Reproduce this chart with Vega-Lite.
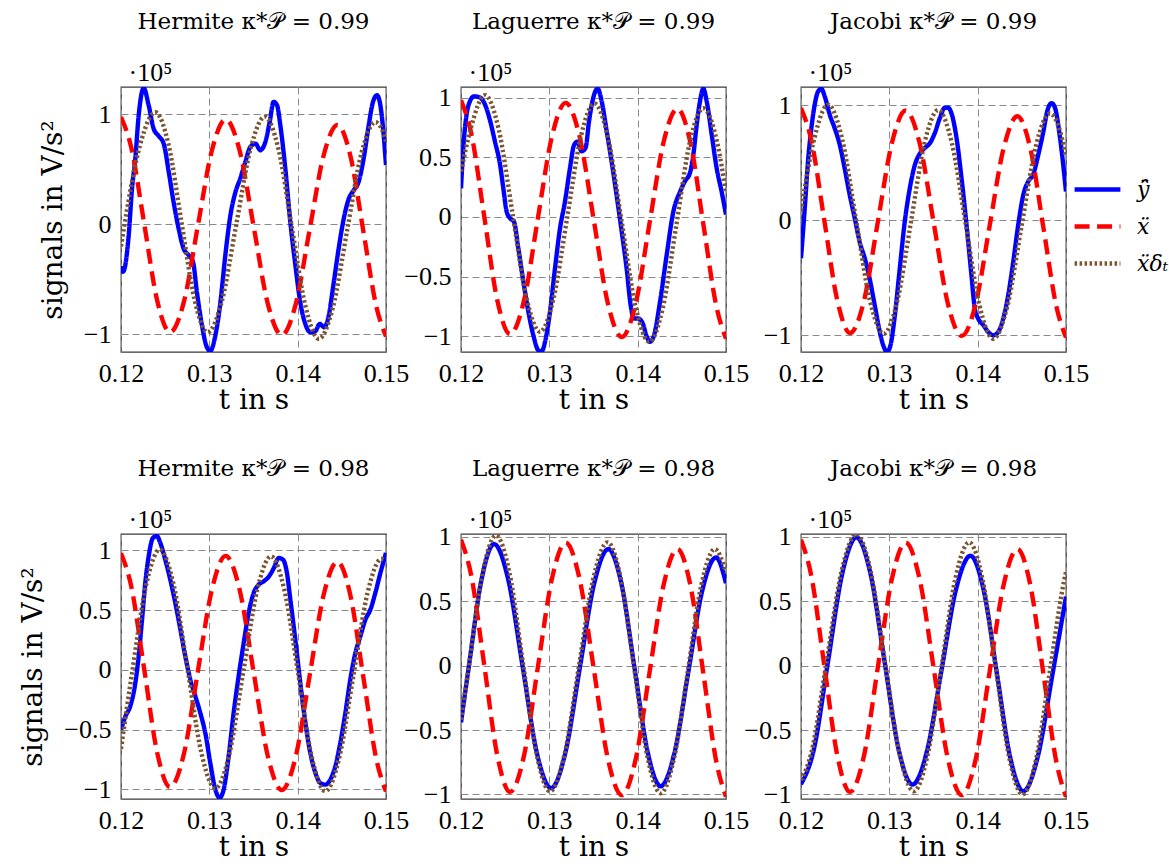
{
"$schema": "https://vega.github.io/schema/vega-lite/v6.json",
"background": "white",
"padding": {"left": 19, "top": 10, "right": 0, "bottom": 0},
"autosize": {"type": "pad"},
"datasets": {"sig": [
{"p":1,"s":"y","t":0.12,"v":-0.38},{"p":1,"s":"y","t":0.12023,"v":-0.43},{"p":1,"s":"y","t":0.12087,"v":-0.10},{"p":1,"s":"y","t":0.12125,"v":0.33},{"p":1,"s":"y","t":0.12162,"v":0.60},{"p":1,"s":"y","t":0.122,"v":0.99},{"p":1,"s":"y","t":0.12257,"v":1.24},{"p":1,"s":"y","t":0.12313,"v":1.085},{"p":1,"s":"y","t":0.1237,"v":0.87},{"p":1,"s":"y","t":0.12426,"v":0.805},{"p":1,"s":"y","t":0.12483,"v":0.735},{"p":1,"s":"y","t":0.1254,"v":0.48},{"p":1,"s":"y","t":0.12596,"v":0.20},{"p":1,"s":"y","t":0.12653,"v":-0.04},{"p":1,"s":"y","t":0.12709,"v":-0.22},{"p":1,"s":"y","t":0.12766,"v":-0.28},{"p":1,"s":"y","t":0.12815,"v":-0.34},{"p":1,"s":"y","t":0.1286,"v":-0.62},{"p":1,"s":"y","t":0.12917,"v":-0.92},{"p":1,"s":"y","t":0.12974,"v":-1.12},{"p":1,"s":"y","t":0.13011,"v":-1.15},{"p":1,"s":"y","t":0.13068,"v":-1.01},{"p":1,"s":"y","t":0.13125,"v":-0.71},{"p":1,"s":"y","t":0.13181,"v":-0.28},{"p":1,"s":"y","t":0.13238,"v":0.08},{"p":1,"s":"y","t":0.13294,"v":0.29},{"p":1,"s":"y","t":0.13351,"v":0.42},{"p":1,"s":"y","t":0.13408,"v":0.57},{"p":1,"s":"y","t":0.13464,"v":0.705},{"p":1,"s":"y","t":0.13521,"v":0.735},{"p":1,"s":"y","t":0.13577,"v":0.675},{"p":1,"s":"y","t":0.13634,"v":0.75},{"p":1,"s":"y","t":0.13683,"v":0.93},{"p":1,"s":"y","t":0.13728,"v":1.115},{"p":1,"s":"y","t":0.13766,"v":1.085},{"p":1,"s":"y","t":0.13804,"v":0.90},{"p":1,"s":"y","t":0.1386,"v":0.51},{"p":1,"s":"y","t":0.13917,"v":0.02},{"p":1,"s":"y","t":0.13974,"v":-0.37},{"p":1,"s":"y","t":0.1403,"v":-0.71},{"p":1,"s":"y","t":0.14087,"v":-0.905},{"p":1,"s":"y","t":0.14143,"v":-0.98},{"p":1,"s":"y","t":0.142,"v":-0.97},{"p":1,"s":"y","t":0.14249,"v":-0.905},{"p":1,"s":"y","t":0.14302,"v":-0.935},{"p":1,"s":"y","t":0.14351,"v":-0.83},{"p":1,"s":"y","t":0.14408,"v":-0.53},{"p":1,"s":"y","t":0.14464,"v":-0.22},{"p":1,"s":"y","t":0.14521,"v":0.05},{"p":1,"s":"y","t":0.14577,"v":0.23},{"p":1,"s":"y","t":0.14634,"v":0.31},{"p":1,"s":"y","t":0.14691,"v":0.39},{"p":1,"s":"y","t":0.14747,"v":0.60},{"p":1,"s":"y","t":0.14804,"v":0.90},{"p":1,"s":"y","t":0.14853,"v":1.115},{"p":1,"s":"y","t":0.14898,"v":1.175},{"p":1,"s":"y","t":0.14936,"v":1.085},{"p":1,"s":"y","t":0.14974,"v":0.81},{"p":1,"s":"y","t":0.15,"v":0.54},
{"p":2,"s":"y","t":0.12,"v":0.24},{"p":2,"s":"y","t":0.12026,"v":0.58},{"p":2,"s":"y","t":0.12064,"v":0.86},{"p":2,"s":"y","t":0.12102,"v":0.97},{"p":2,"s":"y","t":0.12147,"v":1.01},{"p":2,"s":"y","t":0.12215,"v":1.0},{"p":2,"s":"y","t":0.12272,"v":0.94},{"p":2,"s":"y","t":0.12328,"v":0.81},{"p":2,"s":"y","t":0.12385,"v":0.63},{"p":2,"s":"y","t":0.12442,"v":0.44},{"p":2,"s":"y","t":0.12479,"v":0.24},{"p":2,"s":"y","t":0.12517,"v":0.045},{"p":2,"s":"y","t":0.12555,"v":-0.01},{"p":2,"s":"y","t":0.126,"v":-0.04},{"p":2,"s":"y","t":0.12649,"v":-0.26},{"p":2,"s":"y","t":0.12706,"v":-0.54},{"p":2,"s":"y","t":0.12762,"v":-0.79},{"p":2,"s":"y","t":0.12819,"v":-0.99},{"p":2,"s":"y","t":0.12875,"v":-1.115},{"p":2,"s":"y","t":0.12913,"v":-1.125},{"p":2,"s":"y","t":0.12951,"v":-1.045},{"p":2,"s":"y","t":0.13008,"v":-0.79},{"p":2,"s":"y","t":0.13064,"v":-0.43},{"p":2,"s":"y","t":0.13121,"v":-0.095},{"p":2,"s":"y","t":0.13177,"v":0.13},{"p":2,"s":"y","t":0.13234,"v":0.41},{"p":2,"s":"y","t":0.13279,"v":0.60},{"p":2,"s":"y","t":0.13317,"v":0.63},{"p":2,"s":"y","t":0.13366,"v":0.55},{"p":2,"s":"y","t":0.13411,"v":0.58},{"p":2,"s":"y","t":0.13449,"v":0.80},{"p":2,"s":"y","t":0.13498,"v":1.0},{"p":2,"s":"y","t":0.13547,"v":1.075},{"p":2,"s":"y","t":0.13592,"v":0.97},{"p":2,"s":"y","t":0.13649,"v":0.72},{"p":2,"s":"y","t":0.13706,"v":0.46},{"p":2,"s":"y","t":0.13762,"v":0.18},{"p":2,"s":"y","t":0.13819,"v":-0.12},{"p":2,"s":"y","t":0.13875,"v":-0.43},{"p":2,"s":"y","t":0.13921,"v":-0.74},{"p":2,"s":"y","t":0.13958,"v":-0.85},{"p":2,"s":"y","t":0.14008,"v":-0.85},{"p":2,"s":"y","t":0.14057,"v":-0.89},{"p":2,"s":"y","t":0.14102,"v":-1.0},{"p":2,"s":"y","t":0.1414,"v":-1.045},{"p":2,"s":"y","t":0.14185,"v":-0.99},{"p":2,"s":"y","t":0.14253,"v":-0.71},{"p":2,"s":"y","t":0.14328,"v":-0.32},{"p":2,"s":"y","t":0.14404,"v":0.045},{"p":2,"s":"y","t":0.14479,"v":0.21},{"p":2,"s":"y","t":0.14536,"v":0.30},{"p":2,"s":"y","t":0.14592,"v":0.37},{"p":2,"s":"y","t":0.1463,"v":0.52},{"p":2,"s":"y","t":0.14668,"v":0.77},{"p":2,"s":"y","t":0.14706,"v":0.97},{"p":2,"s":"y","t":0.14743,"v":1.075},{"p":2,"s":"y","t":0.14781,"v":0.97},{"p":2,"s":"y","t":0.14838,"v":0.69},{"p":2,"s":"y","t":0.14894,"v":0.41},{"p":2,"s":"y","t":0.14951,"v":0.21},{"p":2,"s":"y","t":0.15,"v":0.02},
{"p":3,"s":"y","t":0.12,"v":-0.33},{"p":3,"s":"y","t":0.12042,"v":0.10},{"p":3,"s":"y","t":0.12079,"v":0.51},{"p":3,"s":"y","t":0.12117,"v":0.80},{"p":3,"s":"y","t":0.12155,"v":1.006},{"p":3,"s":"y","t":0.12193,"v":1.12},{"p":3,"s":"y","t":0.1223,"v":1.145},{"p":3,"s":"y","t":0.12268,"v":1.08},{"p":3,"s":"y","t":0.12325,"v":0.92},{"p":3,"s":"y","t":0.12382,"v":0.80},{"p":3,"s":"y","t":0.12438,"v":0.66},{"p":3,"s":"y","t":0.12495,"v":0.45},{"p":3,"s":"y","t":0.12552,"v":0.22},{"p":3,"s":"y","t":0.12608,"v":0.02},{"p":3,"s":"y","t":0.12665,"v":-0.19},{"p":3,"s":"y","t":0.12722,"v":-0.33},{"p":3,"s":"y","t":0.12778,"v":-0.51},{"p":3,"s":"y","t":0.12835,"v":-0.74},{"p":3,"s":"y","t":0.12892,"v":-0.97},{"p":3,"s":"y","t":0.12937,"v":-1.10},{"p":3,"s":"y","t":0.12975,"v":-1.145},{"p":3,"s":"y","t":0.13012,"v":-1.09},{"p":3,"s":"y","t":0.13062,"v":-0.83},{"p":3,"s":"y","t":0.13118,"v":-0.42},{"p":3,"s":"y","t":0.13175,"v":-0.01},{"p":3,"s":"y","t":0.13232,"v":0.28},{"p":3,"s":"y","t":0.13288,"v":0.48},{"p":3,"s":"y","t":0.13345,"v":0.58},{"p":3,"s":"y","t":0.13402,"v":0.63},{"p":3,"s":"y","t":0.13458,"v":0.67},{"p":3,"s":"y","t":0.13515,"v":0.76},{"p":3,"s":"y","t":0.13572,"v":0.89},{"p":3,"s":"y","t":0.13628,"v":0.98},{"p":3,"s":"y","t":0.13666,"v":0.98},{"p":3,"s":"y","t":0.13704,"v":0.93},{"p":3,"s":"y","t":0.1376,"v":0.72},{"p":3,"s":"y","t":0.13817,"v":0.37},{"p":3,"s":"y","t":0.13874,"v":-0.04},{"p":3,"s":"y","t":0.1393,"v":-0.48},{"p":3,"s":"y","t":0.13968,"v":-0.77},{"p":3,"s":"y","t":0.14006,"v":-0.855},{"p":3,"s":"y","t":0.14063,"v":-0.91},{"p":3,"s":"y","t":0.14119,"v":-0.97},{"p":3,"s":"y","t":0.14176,"v":-1.0},{"p":3,"s":"y","t":0.14233,"v":-0.97},{"p":3,"s":"y","t":0.14289,"v":-0.855},{"p":3,"s":"y","t":0.14346,"v":-0.65},{"p":3,"s":"y","t":0.14403,"v":-0.36},{"p":3,"s":"y","t":0.14459,"v":-0.04},{"p":3,"s":"y","t":0.14516,"v":0.22},{"p":3,"s":"y","t":0.14573,"v":0.34},{"p":3,"s":"y","t":0.14629,"v":0.40},{"p":3,"s":"y","t":0.14686,"v":0.57},{"p":3,"s":"y","t":0.14743,"v":0.77},{"p":3,"s":"y","t":0.14788,"v":0.95},{"p":3,"s":"y","t":0.14837,"v":1.02},{"p":3,"s":"y","t":0.14875,"v":0.98},{"p":3,"s":"y","t":0.14932,"v":0.72},{"p":3,"s":"y","t":0.15,"v":0.25},
{"p":4,"s":"y","t":0.12,"v":-0.5},{"p":4,"s":"y","t":0.12049,"v":-0.39},{"p":4,"s":"y","t":0.12106,"v":-0.30},{"p":4,"s":"y","t":0.12162,"v":-0.11},{"p":4,"s":"y","t":0.122,"v":0.114},{"p":4,"s":"y","t":0.12238,"v":0.42},{"p":4,"s":"y","t":0.12275,"v":0.73},{"p":4,"s":"y","t":0.12313,"v":0.95},{"p":4,"s":"y","t":0.12362,"v":1.105},{"p":4,"s":"y","t":0.12408,"v":1.12},{"p":4,"s":"y","t":0.12445,"v":1.063},{"p":4,"s":"y","t":0.12502,"v":0.92},{"p":4,"s":"y","t":0.12558,"v":0.756},{"p":4,"s":"y","t":0.12615,"v":0.56},{"p":4,"s":"y","t":0.12672,"v":0.34},{"p":4,"s":"y","t":0.12728,"v":0.114},{"p":4,"s":"y","t":0.12785,"v":-0.08},{"p":4,"s":"y","t":0.12842,"v":-0.22},{"p":4,"s":"y","t":0.12898,"v":-0.36},{"p":4,"s":"y","t":0.12955,"v":-0.53},{"p":4,"s":"y","t":0.13011,"v":-0.78},{"p":4,"s":"y","t":0.13068,"v":-1.0},{"p":4,"s":"y","t":0.13117,"v":-1.07},{"p":4,"s":"y","t":0.13162,"v":-1.0},{"p":4,"s":"y","t":0.13219,"v":-0.72},{"p":4,"s":"y","t":0.13275,"v":-0.36},{"p":4,"s":"y","t":0.13332,"v":-0.05},{"p":4,"s":"y","t":0.13389,"v":0.226},{"p":4,"s":"y","t":0.13445,"v":0.477},{"p":4,"s":"y","t":0.13502,"v":0.644},{"p":4,"s":"y","t":0.13558,"v":0.714},{"p":4,"s":"y","t":0.13615,"v":0.742},{"p":4,"s":"y","t":0.13672,"v":0.78},{"p":4,"s":"y","t":0.13728,"v":0.85},{"p":4,"s":"y","t":0.13785,"v":0.937},{"p":4,"s":"y","t":0.13834,"v":0.923},{"p":4,"s":"y","t":0.13879,"v":0.81},{"p":4,"s":"y","t":0.13917,"v":0.59},{"p":4,"s":"y","t":0.13974,"v":0.25},{"p":4,"s":"y","t":0.1403,"v":-0.11},{"p":4,"s":"y","t":0.14087,"v":-0.44},{"p":4,"s":"y","t":0.14143,"v":-0.695},{"p":4,"s":"y","t":0.142,"v":-0.86},{"p":4,"s":"y","t":0.14257,"v":-0.946},{"p":4,"s":"y","t":0.14313,"v":-0.96},{"p":4,"s":"y","t":0.1437,"v":-0.918},{"p":4,"s":"y","t":0.14426,"v":-0.806},{"p":4,"s":"y","t":0.14483,"v":-0.61},{"p":4,"s":"y","t":0.1454,"v":-0.36},{"p":4,"s":"y","t":0.14596,"v":-0.08},{"p":4,"s":"y","t":0.14653,"v":0.142},{"p":4,"s":"y","t":0.14709,"v":0.28},{"p":4,"s":"y","t":0.14766,"v":0.42},{"p":4,"s":"y","t":0.14823,"v":0.505},{"p":4,"s":"y","t":0.14879,"v":0.644},{"p":4,"s":"y","t":0.14936,"v":0.81},{"p":4,"s":"y","t":0.15,"v":0.98},
{"p":5,"s":"y","t":0.12,"v":-0.44},{"p":5,"s":"y","t":0.1209,"v":0.0},{"p":5,"s":"y","t":0.12232,"v":0.667},{"p":5,"s":"y","t":0.12374,"v":0.944},{"p":5,"s":"y","t":0.12535,"v":0.667},{"p":5,"s":"y","t":0.12697,"v":-0.003},{"p":5,"s":"y","t":0.12858,"v":-0.673},{"p":5,"s":"y","t":0.13019,"v":-0.95},{"p":5,"s":"y","t":0.13181,"v":-0.678},{"p":5,"s":"y","t":0.13344,"v":-0.0225},{"p":5,"s":"y","t":0.13506,"v":0.633},{"p":5,"s":"y","t":0.13668,"v":0.905},{"p":5,"s":"y","t":0.13816,"v":0.635},{"p":5,"s":"y","t":0.13964,"v":-0.0155},{"p":5,"s":"y","t":0.14112,"v":-0.666},{"p":5,"s":"y","t":0.1426,"v":-0.936},{"p":5,"s":"y","t":0.14417,"v":-0.676},{"p":5,"s":"y","t":0.14574,"v":-0.048},{"p":5,"s":"y","t":0.1473,"v":0.58},{"p":5,"s":"y","t":0.14887,"v":0.84},{"p":5,"s":"y","t":0.15,"v":0.64},
{"p":6,"s":"y","t":0.12,"v":-0.92},{"p":6,"s":"y","t":0.12146,"v":-0.648},{"p":6,"s":"y","t":0.12306,"v":0.033},{"p":6,"s":"y","t":0.12467,"v":0.714},{"p":6,"s":"y","t":0.12627,"v":0.996},{"p":6,"s":"y","t":0.12786,"v":0.715},{"p":6,"s":"y","t":0.12945,"v":0.0365},{"p":6,"s":"y","t":0.13103,"v":-0.642},{"p":6,"s":"y","t":0.13262,"v":-0.923},{"p":6,"s":"y","t":0.13426,"v":-0.663},{"p":6,"s":"y","t":0.13591,"v":-0.035},{"p":6,"s":"y","t":0.13755,"v":0.593},{"p":6,"s":"y","t":0.13919,"v":0.853},{"p":6,"s":"y","t":0.14068,"v":0.585},{"p":6,"s":"y","t":0.14218,"v":-0.061},{"p":6,"s":"y","t":0.14367,"v":-0.707},{"p":6,"s":"y","t":0.14516,"v":-0.975},{"p":6,"s":"y","t":0.1468,"v":-0.708},{"p":6,"s":"y","t":0.14848,"v":-0.0625},{"p":6,"s":"y","t":0.15,"v":0.536},
{"p":0,"s":"x","t":0.12,"v":0.977},{"p":0,"s":"x","t":0.12116,"v":0.70},{"p":0,"s":"x","t":0.12263,"v":0.005},{"p":0,"s":"x","t":0.12409,"v":-0.69},{"p":0,"s":"x","t":0.12555,"v":-0.98},{"p":0,"s":"x","t":0.12713,"v":-0.70},{"p":0,"s":"x","t":0.1287,"v":-0.0125},{"p":0,"s":"x","t":0.13028,"v":0.67},{"p":0,"s":"x","t":0.13185,"v":0.955},{"p":0,"s":"x","t":0.13344,"v":0.668},{"p":0,"s":"x","t":0.13503,"v":-0.025},{"p":0,"s":"x","t":0.13661,"v":-0.718},{"p":0,"s":"x","t":0.1382,"v":-1.005},{"p":0,"s":"x","t":0.13978,"v":-0.725},{"p":0,"s":"x","t":0.14135,"v":-0.05},{"p":0,"s":"x","t":0.14293,"v":0.625},{"p":0,"s":"x","t":0.1445,"v":0.905},{"p":0,"s":"x","t":0.14598,"v":0.62},{"p":0,"s":"x","t":0.14745,"v":-0.0675},{"p":0,"s":"x","t":0.14893,"v":-0.755},{"p":0,"s":"x","t":0.15,"v":-1.018},
{"p":1,"s":"d","t":0.12,"v":-0.2},{"p":1,"s":"d","t":0.1204,"v":0.0},{"p":1,"s":"d","t":0.12215,"v":0.72},{"p":1,"s":"d","t":0.1239,"v":1.02},{"p":1,"s":"d","t":0.12538,"v":0.727},{"p":1,"s":"d","t":0.12685,"v":0.02},{"p":1,"s":"d","t":0.12833,"v":-0.687},{"p":1,"s":"d","t":0.1298,"v":-0.98},{"p":1,"s":"d","t":0.13143,"v":-0.693},{"p":1,"s":"d","t":0.13305,"v":0.0},{"p":1,"s":"d","t":0.13468,"v":0.693},{"p":1,"s":"d","t":0.1363,"v":0.98},{"p":1,"s":"d","t":0.13783,"v":0.684},{"p":1,"s":"d","t":0.13935,"v":-0.03},{"p":1,"s":"d","t":0.14088,"v":-0.744},{"p":1,"s":"d","t":0.1424,"v":-1.04},{"p":1,"s":"d","t":0.144,"v":-0.751},{"p":1,"s":"d","t":0.1456,"v":-0.055},{"p":1,"s":"d","t":0.1472,"v":0.641},{"p":1,"s":"d","t":0.1488,"v":0.93},{"p":1,"s":"d","t":0.14958,"v":0.857},{"p":1,"s":"d","t":0.15,"v":0.755},
{"p":2,"s":"d","t":0.12,"v":0.38},{"p":2,"s":"d","t":0.1211,"v":0.74},{"p":2,"s":"d","t":0.12272,"v":1.02},{"p":2,"s":"d","t":0.12428,"v":0.73},{"p":2,"s":"d","t":0.12583,"v":0.03},{"p":2,"s":"d","t":0.12739,"v":-0.67},{"p":2,"s":"d","t":0.12894,"v":-0.96},{"p":2,"s":"d","t":0.13048,"v":-0.68},{"p":2,"s":"d","t":0.13202,"v":-0.005},{"p":2,"s":"d","t":0.13356,"v":0.67},{"p":2,"s":"d","t":0.1351,"v":0.95},{"p":2,"s":"d","t":0.13666,"v":0.658},{"p":2,"s":"d","t":0.13821,"v":-0.0475},{"p":2,"s":"d","t":0.13977,"v":-0.753},{"p":2,"s":"d","t":0.14132,"v":-1.045},{"p":2,"s":"d","t":0.14285,"v":-0.759},{"p":2,"s":"d","t":0.14438,"v":-0.0675},{"p":2,"s":"d","t":0.1459,"v":0.624},{"p":2,"s":"d","t":0.14743,"v":0.91},{"p":2,"s":"d","t":0.149,"v":0.624},{"p":2,"s":"d","t":0.15,"v":0.2},
{"p":3,"s":"d","t":0.12,"v":0.08},{"p":3,"s":"d","t":0.1215,"v":0.71},{"p":3,"s":"d","t":0.12306,"v":1.006},{"p":3,"s":"d","t":0.12464,"v":0.714},{"p":3,"s":"d","t":0.12622,"v":0.01},{"p":3,"s":"d","t":0.12779,"v":-0.693},{"p":3,"s":"d","t":0.12937,"v":-0.985},{"p":3,"s":"d","t":0.13091,"v":-0.70},{"p":3,"s":"d","t":0.13245,"v":-0.0125},{"p":3,"s":"d","t":0.13399,"v":0.675},{"p":3,"s":"d","t":0.13553,"v":0.96},{"p":3,"s":"d","t":0.13709,"v":0.668},{"p":3,"s":"d","t":0.13865,"v":-0.035},{"p":3,"s":"d","t":0.1402,"v":-0.738},{"p":3,"s":"d","t":0.14176,"v":-1.03},{"p":3,"s":"d","t":0.14337,"v":-0.743},{"p":3,"s":"d","t":0.14497,"v":-0.05},{"p":3,"s":"d","t":0.14658,"v":0.643},{"p":3,"s":"d","t":0.14818,"v":0.93},{"p":3,"s":"d","t":0.14976,"v":0.641},{"p":3,"s":"d","t":0.15,"v":0.55},
{"p":4,"s":"d","t":0.12,"v":-0.66},{"p":4,"s":"d","t":0.1213,"v":0.0},{"p":4,"s":"d","t":0.12284,"v":0.71},{"p":4,"s":"d","t":0.12438,"v":1.007},{"p":4,"s":"d","t":0.12596,"v":0.714},{"p":4,"s":"d","t":0.12753,"v":0.0085},{"p":4,"s":"d","t":0.12911,"v":-0.697},{"p":4,"s":"d","t":0.13068,"v":-0.99},{"p":4,"s":"d","t":0.13226,"v":-0.706},{"p":4,"s":"d","t":0.13383,"v":-0.02},{"p":4,"s":"d","t":0.13541,"v":0.666},{"p":4,"s":"d","t":0.13698,"v":0.95},{"p":4,"s":"d","t":0.13852,"v":0.662},{"p":4,"s":"d","t":0.14006,"v":-0.0325},{"p":4,"s":"d","t":0.14159,"v":-0.727},{"p":4,"s":"d","t":0.14313,"v":-1.015},{"p":4,"s":"d","t":0.14472,"v":-0.73},{"p":4,"s":"d","t":0.14632,"v":-0.0425},{"p":4,"s":"d","t":0.14791,"v":0.645},{"p":4,"s":"d","t":0.1495,"v":0.93},{"p":4,"s":"d","t":0.15,"v":0.92},
{"p":5,"s":"d","t":0.12,"v":-0.42},{"p":5,"s":"d","t":0.1209,"v":0.0},{"p":5,"s":"d","t":0.12243,"v":0.714},{"p":5,"s":"d","t":0.12396,"v":1.01},{"p":5,"s":"d","t":0.12549,"v":0.719},{"p":5,"s":"d","t":0.12702,"v":0.0175},{"p":5,"s":"d","t":0.12855,"v":-0.684},{"p":5,"s":"d","t":0.13008,"v":-0.975},{"p":5,"s":"d","t":0.13171,"v":-0.692},{"p":5,"s":"d","t":0.13334,"v":-0.009},{"p":5,"s":"d","t":0.13497,"v":0.674},{"p":5,"s":"d","t":0.1366,"v":0.957},{"p":5,"s":"d","t":0.1381,"v":0.672},{"p":5,"s":"d","t":0.1396,"v":-0.0165},{"p":5,"s":"d","t":0.1411,"v":-0.705},{"p":5,"s":"d","t":0.1426,"v":-0.99},{"p":5,"s":"d","t":0.14414,"v":-0.712},{"p":5,"s":"d","t":0.14568,"v":-0.0425},{"p":5,"s":"d","t":0.14721,"v":0.627},{"p":5,"s":"d","t":0.14875,"v":0.905},{"p":5,"s":"d","t":0.15,"v":0.72},
{"p":6,"s":"d","t":0.12,"v":-0.89},{"p":6,"s":"d","t":0.12119,"v":-0.67},{"p":6,"s":"d","t":0.12289,"v":0.03},{"p":6,"s":"d","t":0.12458,"v":0.73},{"p":6,"s":"d","t":0.12627,"v":1.02},{"p":6,"s":"d","t":0.1279,"v":0.728},{"p":6,"s":"d","t":0.12952,"v":0.0225},{"p":6,"s":"d","t":0.13115,"v":-0.683},{"p":6,"s":"d","t":0.13277,"v":-0.975},{"p":6,"s":"d","t":0.13434,"v":-0.692},{"p":6,"s":"d","t":0.13591,"v":-0.009},{"p":6,"s":"d","t":0.13747,"v":0.674},{"p":6,"s":"d","t":0.13904,"v":0.957},{"p":6,"s":"d","t":0.14055,"v":0.67},{"p":6,"s":"d","t":0.14206,"v":-0.0215},{"p":6,"s":"d","t":0.14357,"v":-0.713},{"p":6,"s":"d","t":0.14508,"v":-1.0},{"p":6,"s":"d","t":0.14664,"v":-0.717},{"p":6,"s":"d","t":0.14819,"v":-0.035},{"p":6,"s":"d","t":0.14975,"v":0.647},{"p":6,"s":"d","t":0.15,"v":0.727}
]},
"data": {"name": "sig"},
"columns": 3,
"spacing": {"row": 182, "column": 75},
"bounds": "flush",
"concat": [
{"width": 265, "height": 265, "title": {"text": "Hermite \u03ba*\ud835\udcab = 0.99", "font": "DejaVu Serif", "fontSize": 23, "fontWeight": "normal", "offset": 25, "frame": "group"},
 "transform": [{"filter": "datum.p == 1 || datum.p == 0"}],
 "layer": [
  {"mark": {"type": "line", "interpolate": "monotone", "strokeWidth": 4.4, "clip": true},
   "encoding": {
    "x": {"field": "t", "type": "quantitative", "scale": {"domain": [0.12, 0.15], "nice": false, "zero": false}, "axis": {"values": [0.12, 0.13, 0.14, 0.15], "format": ".2f", "title": "t in s", "labelFont": "Liberation Serif", "labelFontSize": 26, "labelPadding": 8, "titleFont": "DejaVu Serif", "titleFontSize": 28, "titleFontWeight": "normal", "titlePadding": 0}},
    "y": {"field": "v", "type": "quantitative", "scale": {"domain": [-1.16, 1.25], "nice": false, "zero": false}, "axis": {"values": [-1, 0, 1], "format": "~g", "title": "signals in V/s\u00b2", "labelFont": "Liberation Serif", "labelFontSize": 26, "labelPadding": 10, "titleFont": "DejaVu Serif", "titleFontSize": 28, "titleFontWeight": "normal", "titlePadding": 16}},
    "color": {"field": "s", "type": "nominal", "scale": {"domain": ["y", "x", "d"], "range": ["#0000ff", "#ff0000", "#7a5530"]}, "legend": {"title": null, "orient": "none", "legendX": 951, "legendY": 77, "symbolType": "stroke", "symbolSize": 2100, "symbolStrokeWidth": 4.5, "labelFont": "DejaVu Serif", "labelFontSize": 22, "labelFontStyle": "italic", "labelOffset": 14, "rowPadding": -40, "labelExpr": "datum.label === 'y' ? 'y\u0302\u0308' : datum.label === 'x' ? 'x\u0308' : 'x\u0308\u03b4\u209c'"}},
    "strokeDash": {"field": "s", "type": "nominal", "scale": {"domain": ["y", "x", "d"], "range": [[1, 0], [15, 7.5], [2.5, 2.5]]}, "legend": {"title": null, "orient": "none", "legendX": 951, "legendY": 77, "symbolType": "stroke", "symbolSize": 2100, "symbolStrokeWidth": 4.5, "labelFont": "DejaVu Serif", "labelFontSize": 22, "labelFontStyle": "italic", "labelOffset": 14, "rowPadding": -40, "labelExpr": "datum.label === 'y' ? 'y\u0302\u0308' : datum.label === 'x' ? 'x\u0308' : 'x\u0308\u03b4\u209c'"}}
   }},
  {"data": {"values": [{}]}, "mark": {"type": "rule", "opacity": 0},
   "encoding": {"x": {"datum": 0.13, "type": "quantitative", "axis": {"orient": "top", "title": "\u00b710\u2075", "labels": false, "ticks": false, "domain": false, "grid": false, "titleAnchor": "start", "titleAlign": "left", "titleX": 7, "titleFont": "Liberation Serif", "titleFontSize": 26, "titleFontWeight": "normal", "titlePadding": 2}}}}
 ],
 "resolve": {"axis": {"x": "independent"}}},
{"width": 265, "height": 265, "title": {"text": "Laguerre \u03ba*\ud835\udcab = 0.99", "font": "DejaVu Serif", "fontSize": 23, "fontWeight": "normal", "offset": 25, "frame": "group"},
 "transform": [{"filter": "datum.p == 2 || datum.p == 0"}],
 "layer": [
  {"mark": {"type": "line", "interpolate": "monotone", "strokeWidth": 4.4, "clip": true},
   "encoding": {
    "x": {"field": "t", "type": "quantitative", "scale": {"domain": [0.12, 0.15], "nice": false, "zero": false}, "axis": {"values": [0.12, 0.13, 0.14, 0.15], "format": ".2f", "title": "t in s", "labelFont": "Liberation Serif", "labelFontSize": 26, "labelPadding": 8, "titleFont": "DejaVu Serif", "titleFontSize": 28, "titleFontWeight": "normal", "titlePadding": 0}},
    "y": {"field": "v", "type": "quantitative", "scale": {"domain": [-1.13, 1.088], "nice": false, "zero": false}, "axis": {"values": [-1, -0.5, 0, 0.5, 1], "format": "~g", "title": null, "labelFont": "Liberation Serif", "labelFontSize": 26, "labelPadding": 10}},
    "color": {"field": "s", "type": "nominal", "scale": {"domain": ["y", "x", "d"], "range": ["#0000ff", "#ff0000", "#7a5530"]}, "legend": null},
    "strokeDash": {"field": "s", "type": "nominal", "scale": {"domain": ["y", "x", "d"], "range": [[1, 0], [15, 7.5], [2.5, 2.5]]}, "legend": null}
   }},
  {"data": {"values": [{}]}, "mark": {"type": "rule", "opacity": 0},
   "encoding": {"x": {"datum": 0.13, "type": "quantitative", "axis": {"orient": "top", "title": "\u00b710\u2075", "labels": false, "ticks": false, "domain": false, "grid": false, "titleAnchor": "start", "titleAlign": "left", "titleX": 7, "titleFont": "Liberation Serif", "titleFontSize": 26, "titleFontWeight": "normal", "titlePadding": 2}}}}
 ],
 "resolve": {"axis": {"x": "independent"}}},
{"width": 265, "height": 265, "title": {"text": "Jacobi \u03ba*\ud835\udcab = 0.99", "font": "DejaVu Serif", "fontSize": 23, "fontWeight": "normal", "offset": 25, "frame": "group"},
 "transform": [{"filter": "datum.p == 3 || datum.p == 0"}],
 "layer": [
  {"mark": {"type": "line", "interpolate": "monotone", "strokeWidth": 4.4, "clip": true},
   "encoding": {
    "x": {"field": "t", "type": "quantitative", "scale": {"domain": [0.12, 0.15], "nice": false, "zero": false}, "axis": {"values": [0.12, 0.13, 0.14, 0.15], "format": ".2f", "title": "t in s", "labelFont": "Liberation Serif", "labelFontSize": 26, "labelPadding": 8, "titleFont": "DejaVu Serif", "titleFontSize": 28, "titleFontWeight": "normal", "titlePadding": 0}},
    "y": {"field": "v", "type": "quantitative", "scale": {"domain": [-1.145, 1.16], "nice": false, "zero": false}, "axis": {"values": [-1, 0, 1], "format": "~g", "title": null, "labelFont": "Liberation Serif", "labelFontSize": 26, "labelPadding": 10}},
    "color": {"field": "s", "type": "nominal", "scale": {"domain": ["y", "x", "d"], "range": ["#0000ff", "#ff0000", "#7a5530"]}, "legend": null},
    "strokeDash": {"field": "s", "type": "nominal", "scale": {"domain": ["y", "x", "d"], "range": [[1, 0], [15, 7.5], [2.5, 2.5]]}, "legend": null}
   }},
  {"data": {"values": [{}]}, "mark": {"type": "rule", "opacity": 0},
   "encoding": {"x": {"datum": 0.13, "type": "quantitative", "axis": {"orient": "top", "title": "\u00b710\u2075", "labels": false, "ticks": false, "domain": false, "grid": false, "titleAnchor": "start", "titleAlign": "left", "titleX": 7, "titleFont": "Liberation Serif", "titleFontSize": 26, "titleFontWeight": "normal", "titlePadding": 2}}}}
 ],
 "resolve": {"axis": {"x": "independent"}}},
{"width": 265, "height": 265, "title": {"text": "Hermite \u03ba*\ud835\udcab = 0.98", "font": "DejaVu Serif", "fontSize": 23, "fontWeight": "normal", "offset": 25, "frame": "group"},
 "transform": [{"filter": "datum.p == 4 || datum.p == 0"}],
 "layer": [
  {"mark": {"type": "line", "interpolate": "monotone", "strokeWidth": 4.4, "clip": true},
   "encoding": {
    "x": {"field": "t", "type": "quantitative", "scale": {"domain": [0.12, 0.15], "nice": false, "zero": false}, "axis": {"values": [0.12, 0.13, 0.14, 0.15], "format": ".2f", "title": "t in s", "labelFont": "Liberation Serif", "labelFontSize": 26, "labelPadding": 8, "titleFont": "DejaVu Serif", "titleFontSize": 28, "titleFontWeight": "normal", "titlePadding": 0}},
    "y": {"field": "v", "type": "quantitative", "scale": {"domain": [-1.08, 1.138], "nice": false, "zero": false}, "axis": {"values": [-1, -0.5, 0, 0.5, 1], "format": "~g", "title": "signals in V/s\u00b2", "labelFont": "Liberation Serif", "labelFontSize": 26, "labelPadding": 10, "titleFont": "DejaVu Serif", "titleFontSize": 28, "titleFontWeight": "normal", "titlePadding": 16}},
    "color": {"field": "s", "type": "nominal", "scale": {"domain": ["y", "x", "d"], "range": ["#0000ff", "#ff0000", "#7a5530"]}, "legend": null},
    "strokeDash": {"field": "s", "type": "nominal", "scale": {"domain": ["y", "x", "d"], "range": [[1, 0], [15, 7.5], [2.5, 2.5]]}, "legend": null}
   }},
  {"data": {"values": [{}]}, "mark": {"type": "rule", "opacity": 0},
   "encoding": {"x": {"datum": 0.13, "type": "quantitative", "axis": {"orient": "top", "title": "\u00b710\u2075", "labels": false, "ticks": false, "domain": false, "grid": false, "titleAnchor": "start", "titleAlign": "left", "titleX": 7, "titleFont": "Liberation Serif", "titleFontSize": 26, "titleFontWeight": "normal", "titlePadding": 2}}}}
 ],
 "resolve": {"axis": {"x": "independent"}}},
{"width": 265, "height": 265, "title": {"text": "Laguerre \u03ba*\ud835\udcab = 0.98", "font": "DejaVu Serif", "fontSize": 23, "fontWeight": "normal", "offset": 25, "frame": "group"},
 "transform": [{"filter": "datum.p == 5 || datum.p == 0"}],
 "layer": [
  {"mark": {"type": "line", "interpolate": "monotone", "strokeWidth": 4.4, "clip": true},
   "encoding": {
    "x": {"field": "t", "type": "quantitative", "scale": {"domain": [0.12, 0.15], "nice": false, "zero": false}, "axis": {"values": [0.12, 0.13, 0.14, 0.15], "format": ".2f", "title": "t in s", "labelFont": "Liberation Serif", "labelFontSize": 26, "labelPadding": 8, "titleFont": "DejaVu Serif", "titleFontSize": 28, "titleFontWeight": "normal", "titlePadding": 0}},
    "y": {"field": "v", "type": "quantitative", "scale": {"domain": [-1.035, 1.022], "nice": false, "zero": false}, "axis": {"values": [-1, -0.5, 0, 0.5, 1], "format": "~g", "title": null, "labelFont": "Liberation Serif", "labelFontSize": 26, "labelPadding": 10}},
    "color": {"field": "s", "type": "nominal", "scale": {"domain": ["y", "x", "d"], "range": ["#0000ff", "#ff0000", "#7a5530"]}, "legend": null},
    "strokeDash": {"field": "s", "type": "nominal", "scale": {"domain": ["y", "x", "d"], "range": [[1, 0], [15, 7.5], [2.5, 2.5]]}, "legend": null}
   }},
  {"data": {"values": [{}]}, "mark": {"type": "rule", "opacity": 0},
   "encoding": {"x": {"datum": 0.13, "type": "quantitative", "axis": {"orient": "top", "title": "\u00b710\u2075", "labels": false, "ticks": false, "domain": false, "grid": false, "titleAnchor": "start", "titleAlign": "left", "titleX": 7, "titleFont": "Liberation Serif", "titleFontSize": 26, "titleFontWeight": "normal", "titlePadding": 2}}}}
 ],
 "resolve": {"axis": {"x": "independent"}}},
{"width": 265, "height": 265, "title": {"text": "Jacobi \u03ba*\ud835\udcab = 0.98", "font": "DejaVu Serif", "fontSize": 23, "fontWeight": "normal", "offset": 25, "frame": "group"},
 "transform": [{"filter": "datum.p == 6 || datum.p == 0"}],
 "layer": [
  {"mark": {"type": "line", "interpolate": "monotone", "strokeWidth": 4.4, "clip": true},
   "encoding": {
    "x": {"field": "t", "type": "quantitative", "scale": {"domain": [0.12, 0.15], "nice": false, "zero": false}, "axis": {"values": [0.12, 0.13, 0.14, 0.15], "format": ".2f", "title": "t in s", "labelFont": "Liberation Serif", "labelFontSize": 26, "labelPadding": 8, "titleFont": "DejaVu Serif", "titleFontSize": 28, "titleFontWeight": "normal", "titlePadding": 0}},
    "y": {"field": "v", "type": "quantitative", "scale": {"domain": [-1.035, 1.022], "nice": false, "zero": false}, "axis": {"values": [-1, -0.5, 0, 0.5, 1], "format": "~g", "title": null, "labelFont": "Liberation Serif", "labelFontSize": 26, "labelPadding": 10}},
    "color": {"field": "s", "type": "nominal", "scale": {"domain": ["y", "x", "d"], "range": ["#0000ff", "#ff0000", "#7a5530"]}, "legend": null},
    "strokeDash": {"field": "s", "type": "nominal", "scale": {"domain": ["y", "x", "d"], "range": [[1, 0], [15, 7.5], [2.5, 2.5]]}, "legend": null}
   }},
  {"data": {"values": [{}]}, "mark": {"type": "rule", "opacity": 0},
   "encoding": {"x": {"datum": 0.13, "type": "quantitative", "axis": {"orient": "top", "title": "\u00b710\u2075", "labels": false, "ticks": false, "domain": false, "grid": false, "titleAnchor": "start", "titleAlign": "left", "titleX": 7, "titleFont": "Liberation Serif", "titleFontSize": 26, "titleFontWeight": "normal", "titlePadding": 2}}}}
 ],
 "resolve": {"axis": {"x": "independent"}}}
],
"config": {
 "view": {"stroke": "#3a3a3a", "strokeWidth": 1.3},
 "axis": {"labelColor": "#000000", "labelFlush": false, "labelOverlap": false, "ticks": false, "domain": false, "grid": true, "gridColor": "#8a8a8a", "gridDash": [7, 4], "gridWidth": 1, "titleColor": "#000000"},
 "title": {"color": "#000000", "anchor": "middle"},
 "legend": {"labelColor": "#000000"}
}
}
